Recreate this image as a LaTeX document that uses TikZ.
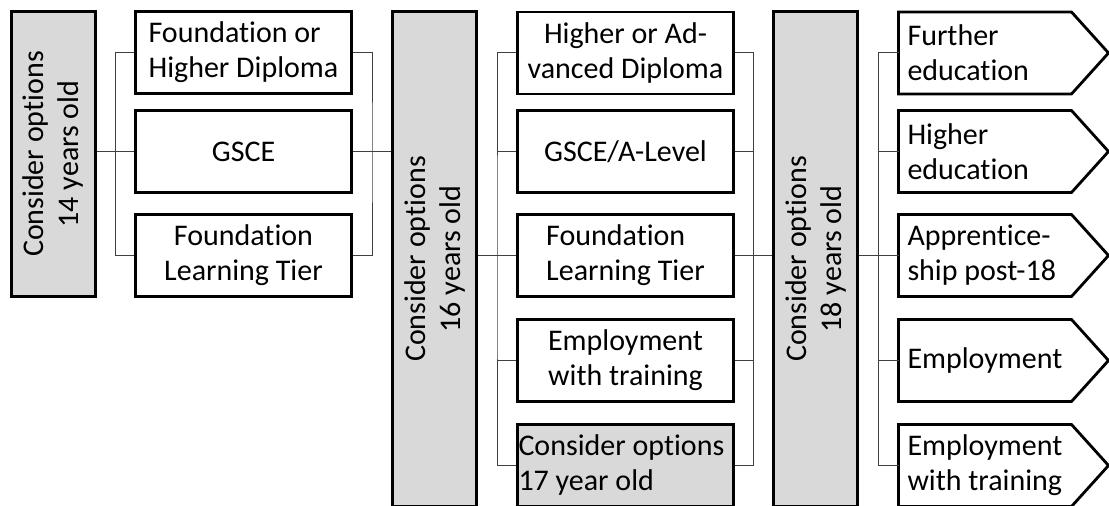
\documentclass[tikz,border=0pt]{standalone}
\usepackage{fontspec}
\setmainfont{Carlito}[Ligatures=NoCommon]
\usepackage{tikz}
\usetikzlibrary{calc}
\usetikzlibrary{positioning}

\begin{document}
\begin{tikzpicture}[x=1pt, y=1pt,
  caja/.style={draw, line width=2.8pt, inner sep=0pt, minimum width=216pt, minimum height=82pt, align=center, font=\fontsize{30}{35}\selectfont},
  edad/.style={caja, fill=black!15, rotate=90, minimum width=495pt, minimum height=84pt},
  salida/.style={caja, draw=none, outer sep=0pt, minimum width=173pt, inner xsep=9pt, text width=155pt, align=flush left},
  borde/.style={line width=2.8pt},
  rama/.style={line width=1pt, draw=black!75}]
  \useasboundingbox (0,0) rectangle (1109,506);
  \clip (0,0) rectangle (1109,506);

  % 14 anos
  \node [edad, minimum width=285pt] (e14) at (53.5,352) {Consider options\\14 years old}; % rotado: south = lado derecho
  \node [caja, align=left] (a1) at (243.5,453.5) {Foundation or\\Higher Diploma};
  \node [caja] (a2) at (243.5,354.5) {GSCE};
  \node [caja] (a3) at (243.5,250.5) {Foundation\\Learning Tier};

  % 16 anos
  \node [edad] (e16) at (434.5,247) {Consider options\\16 years old};
  \node [caja] (c1) at (625.5,453) {Higher or Ad-\\vanced Diploma};
  \node [caja] (c2) at (625.5,354.5) {GSCE/A-Level};
  \node [caja, align=left] (c3) at (625.5,250.5) {Foundation\\Learning Tier};
  \node [caja] (c4) at (625.5,145.5) {Employment\\with training};
  \node [caja, fill=black!15, inner xsep=1pt, text width=214pt, align=flush left] (c5) at (625.5,40.5) {Consider options\\17 year old}; % gris

  % 18 anos
  \node [edad] (e18) at (815.5,247) {Consider options\\18 years old};
  \node [salida] (f1) at (985,453) {Further\\education};
  \node [salida] (f2) at (985,354.5) {Higher\\education};
  \node [salida] (f3) at (985,250.5) {Apprentice-\\ship post-18};
  \node [salida] (f4) at (985,145.5) {Employment};
  \node [salida] (f5) at (985,40.5) {Employment\\with training};
  \draw [borde] (f1.north west) -- (f1.north east) -- ($(f1.east)+(37,0)$) -- (f1.south east) -- (f1.south west) -- cycle; % flecha
  \draw [borde] (f2.north west) -- (f2.north east) -- ($(f2.east)+(37,0)$) -- (f2.south east) -- (f2.south west) -- cycle;
  \draw [borde] (f3.north west) -- (f3.north east) -- ($(f3.east)+(37,0)$) -- (f3.south east) -- (f3.south west) -- cycle;
  \draw [borde] (f4.north west) -- (f4.north east) -- ($(f4.east)+(37,0)$) -- (f4.south east) -- (f4.south west) -- cycle;
  \draw [borde] (f5.north west) -- (f5.north east) -- ($(f5.east)+(37,0)$) -- (f5.south east) -- (f5.south west) -- cycle;

  % ramas 14 -> 16
  \coordinate (m1) at ($(e14.south |- a2.west)!0.5!(a2.west)$);
  \draw [rama] (e14.south |- a2.west) -- (a2.west); % tronco
  \draw [rama] (a1.west) -| (m1) |- (a3.west);
  \coordinate (m2) at ($(a2.east)!0.5!(e16.north |- a2.east)$);
  \draw [rama] (a2.east) -- (e16.north |- a2.east);
  \draw [rama] (a1.east) -| (m2) |- (a3.east);

  % ramas 16 -> 18
  \coordinate (m3) at ($(e16.south |- c3.west)!0.5!(c3.west)$);
  \draw [rama] (e16.south |- c3.west) -- (c3.west);
  \draw [rama] (c1.west) -| (m3) |- (c5.west);
  \draw [rama] (c2.west) -- (c2.west -| m3);
  \draw [rama] (c4.west) -- (c4.west -| m3);
  \coordinate (m4) at ($(c3.east)!0.5!(e18.north |- c3.east)$);
  \draw [rama] (c3.east) -- (e18.north |- c3.east);
  \draw [rama] (c1.east) -| (m4) |- (c5.east);
  \draw [rama] (c2.east) -- (c2.east -| m4);
  \draw [rama] (c4.east) -- (c4.east -| m4);

  % ramas 18 -> salidas
  \coordinate (m5) at ($(e18.south |- f3.west)!0.5!(f3.west)$);
  \draw [rama] (e18.south |- f3.west) -- (f3.west);
  \draw [rama] (f1.west) -| (m5) |- (f5.west);
  \draw [rama] (f2.west) -- (f2.west -| m5);
  \draw [rama] (f4.west) -- (f4.west -| m5);
\end{tikzpicture}
\end{document}
